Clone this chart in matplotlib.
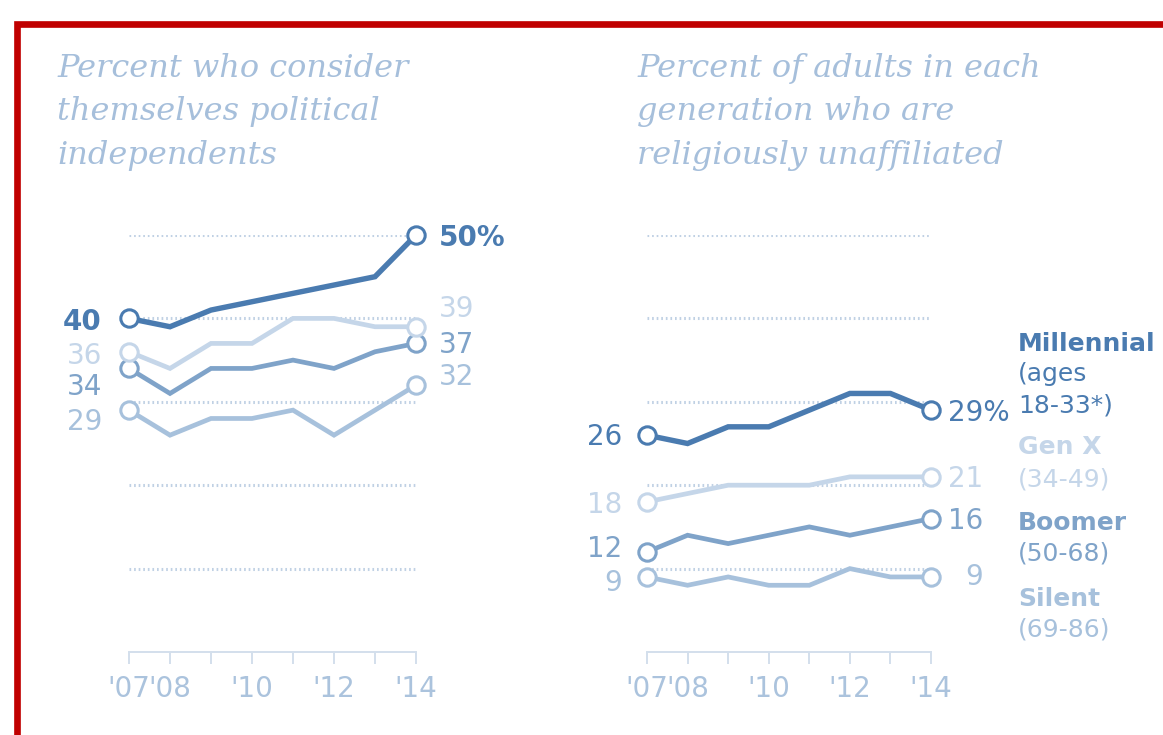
import matplotlib.pyplot as plt
from matplotlib.patches import Rectangle

# datos
years = [2007, 2008, 2009, 2010, 2011, 2012, 2013, 2014]
year_labels = ["'07", "'08", "", "'10", "", "'12", "", "'14"]

generations = ['Millennial', 'Gen X', 'Boomer', 'Silent']
age_ranges = ['(ages\n18-33*)', '(34-49)', '(50-68)', '(69-86)']

# panel izquierdo: independientes politicos
indep_millennial = [40, 39, 41, 42, 43, 44, 45, 50]
indep_genx = [36, 34, 37, 37, 40, 40, 39, 39]
indep_boomer = [34, 31, 34, 34, 35, 34, 36, 37]
indep_silent = [29, 26, 28, 28, 29, 26, 29, 32]

# panel derecho: sin afiliacion religiosa
relig_millennial = [26, 25, 27, 27, 29, 31, 31, 29]
relig_genx = [18, 19, 20, 20, 20, 21, 21, 21]
relig_boomer = [12, 14, 13, 14, 15, 14, 15, 16]
relig_silent = [9, 8, 9, 8, 8, 10, 9, 9]

title_left = 'Percent who consider\nthemselves political\nindependents'
title_right = 'Percent of adults in each\ngeneration who are\nreligiously unaffiliated'

# estilos
colors = ['#4a7bb0', '#c5d6e9', '#7fa3c9', '#a7c1dc']
title_c = '#a6bfdb'
tick_c = '#abc3dd'
axis_c = '#d3dfec'
grid_c = '#c0d1e4'

W, H = 1163, 735

fig = plt.figure(figsize=(W / 100, H / 100), dpi=100)
fig.patch.set_facecolor('white')


def fx(px):
    return px / W


def fy(py):
    return 1 - py / H


# borde rojo
fig.patches.append(Rectangle((fx(16.5), -0.1), 1.2, fy(23.5) + 0.1,
                             transform=fig.transFigure, fill=False,
                             edgecolor='#c00000', linewidth=4.8))


def setup(ax):
    ax.set_xlim(2007, 2014)
    ax.set_ylim(0, 50)
    for s in ['left', 'right', 'top']:
        ax.spines[s].set_visible(False)
    ax.spines['bottom'].set_color(axis_c)
    ax.spines['bottom'].set_linewidth(1.4)
    ax.set_yticks([])
    ax.set_xticks(years)
    ax.set_xticklabels(year_labels)
    ax.tick_params(axis='x', length=8.5, width=1.4, color=axis_c,
                   labelsize=20, labelcolor=tick_c, pad=8)
    ax.hlines([10, 20, 30, 40, 50], 2007, 2014, colors=grid_c,
              linestyles=(0, (0.55, 0.95)), linewidth=2.2, zorder=1)
    ax.patch.set_alpha(0)


def draw_panel(ax, series, start_nudge, end_nudge, start_dx, end_dx,
               end_ha, bold_first):
    order = [1, 3, 2, 0]  # millennial arriba
    for i in order:
        vals = series[i]
        lw = 3.9 if i == 0 else 3.4
        ax.plot(years, vals, color=colors[i], lw=lw, zorder=3 + (4 - i),
                solid_joinstyle='miter', marker='o', markevery=[0, -1],
                markersize=12.5, markerfacecolor='white',
                markeredgecolor=colors[i], markeredgewidth=2.2, clip_on=False)
    for i, vals in enumerate(series):
        weight = 'bold' if (i == 0 and bold_first) else 'normal'
        ax.annotate(str(vals[0]), (years[0], vals[0]),
                    xytext=(start_dx, start_nudge[i] - 10),
                    textcoords='offset pixels', ha='right', va='baseline',
                    fontsize=20, color=colors[i], fontweight=weight)
        txt = str(vals[-1]) + ('%' if i == 0 else '')
        ax.annotate(txt, (years[-1], vals[-1]),
                    xytext=(end_dx[i], end_nudge[i] - 10),
                    textcoords='offset pixels', ha=end_ha[i], va='baseline',
                    fontsize=20, color=colors[i], fontweight=weight)


plot_bottom, plot_top = 652, 235

ax1 = fig.add_axes([fx(129), fy(plot_bottom), fx(416 - 129),
                    (plot_bottom - plot_top) / H])
setup(ax1)
draw_panel(ax1, [indep_millennial, indep_genx, indep_boomer, indep_silent],
           start_nudge=[-2, -2, -17, -10], end_nudge=[-1, 20, 0, 10],
           start_dx=-27, end_dx=[23, 23, 23, 23],
           end_ha=['left'] * 4, bold_first=True)

ax2 = fig.add_axes([fx(647), fy(plot_bottom), fx(931 - 647),
                    (plot_bottom - plot_top) / H])
setup(ax2)
draw_panel(ax2, [relig_millennial, relig_genx, relig_boomer, relig_silent],
           start_nudge=[0, -1, 5, -4], end_nudge=[-1, 0, 0, 2],
           start_dx=-25, end_dx=[17, 17, 17, 52],
           end_ha=['left', 'left', 'left', 'right'], bold_first=False)

# titulos
for x0, t in [(57, title_left), (637, title_right)]:
    fig.text(fx(x0), fy(53), t, ha='left', va='top', fontsize=23,
             family='DejaVu Serif', style='italic', color=title_c,
             linespacing=1.52)

# leyenda de generaciones
name_y = [351, 454, 530, 606]
age_y = [381, 486, 561, 637]
for i in range(4):
    fig.text(fx(1018), fy(name_y[i]), generations[i], ha='left', va='baseline',
             fontsize=18, fontweight='bold', color=colors[i])
    lines = age_ranges[i].split('\n')
    for k, line in enumerate(lines):
        fig.text(fx(1018), fy(age_y[i] + 32 * k), line, ha='left',
                 va='baseline', fontsize=18, color=colors[i])

fig.savefig('out.png', dpi=100)
